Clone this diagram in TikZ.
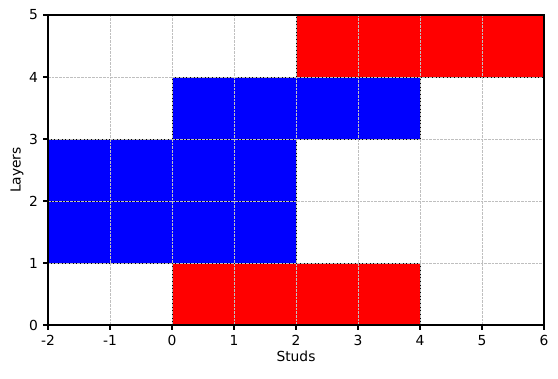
\documentclass[tikz,border=0pt]{standalone}
\usepackage{fontspec}
\setmainfont{DejaVu Sans}
\begin{document}
\begin{tikzpicture}[x=44.64bp,y=44.64bp,
  brick/.style={draw=black,line width=0.6pt},
  gridline/.style={black!25,dash pattern=on 1.85pt off 0.8pt,line width=0.5pt},
  spine/.style={black,line width=0.8pt},
  tick/.style={black,line width=0.8pt},
  ticklab/.style={font=\fontsize{10}{12}\selectfont,inner sep=0pt},
]
\useasboundingbox (-2.774,-0.855) rectangle (6.226,5.242);
% bricks
\fill[red] (2,4) rectangle (6,5); \draw[brick] (2,4) rectangle (6,5);
\fill[blue] (0,3) rectangle (4,4); \draw[brick] (0,3) rectangle (4,4);
\fill[blue] (-2,2) rectangle (2,3); \draw[brick] (-2,2) rectangle (2,3);
\fill[blue] (-2,1) rectangle (2,2); \draw[brick] (-2,1) rectangle (2,2);
\fill[red] (0,0) rectangle (4,1); \draw[brick] (0,0) rectangle (4,1);
% grid
\foreach \x in {-1,0,...,5} \draw[gridline] (\x,0) -- (\x,5);
\foreach \y in {1,2,3,4} \draw[gridline] (-2,\y) -- (6,\y);
% axes frame
\draw[spine] (-2,0) rectangle (6,5);
% ticks and labels
\foreach \x in {-2,-1,0,1,2,3,4,5,6} {
  \draw[tick] (\x,0) -- ++(0,-3.5pt);
  \node[ticklab,anchor=north] (xl\x) at ([yshift=-7pt]\x,0) {\x};
}
\foreach \y in {0,1,2,3,4,5} {
  \draw[tick] (-2,\y) -- ++(-3.5pt,0);
  \node[ticklab,anchor=east] (yl\y) at ([xshift=-7pt]-2,\y) {\y};
}
\node[ticklab,anchor=north] (xlab) at ([yshift=-18.5pt]2,0) {Studs};
\node[ticklab,anchor=south,rotate=90] (ylab) at ([xshift=-17.5pt]-2,2.5) {Layers};
\end{tikzpicture}
\end{document}
